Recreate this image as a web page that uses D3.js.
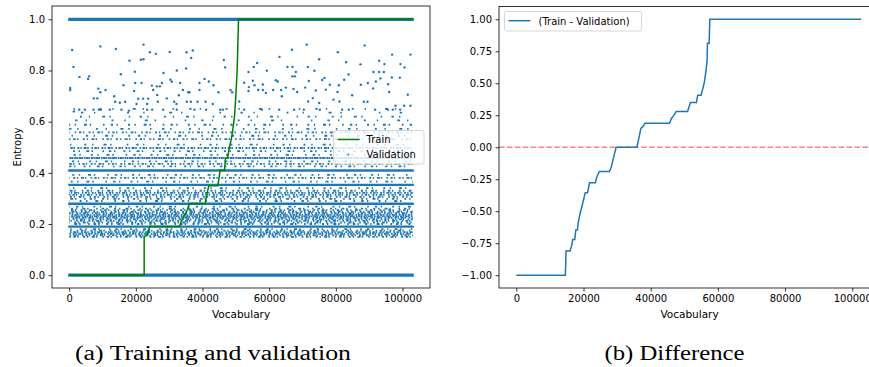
<!DOCTYPE html>
<html>
<head>
<meta charset="utf-8">
<script src="https://cdn.jsdelivr.net/npm/d3@7"></script>
<style>
  html, body { margin: 0; padding: 0; background: #fff; }
  svg { display: block; }
  text { font-family: "DejaVu Sans", sans-serif; fill: #000; }
  .caption { font-family: "Liberation Serif", serif; }
</style>
</head>
<body>
<div id="chart"></div>
<script>
// ---- data ----
const vocabMax = 103100;

// train entropy vs vocabulary (green step-ish curve)
const trainX = [0, 22500, 22500, 23500, 24200, 33100, 33600, 34400, 35300, 36100, 40800, 41200, 41900, 44600, 45300, 46600, 46900, 47500, 48100, 48600, 49000, 49600, 50000, 50400, 50800, 103100];
const trainY = [0, 0, 0.15, 0.16, 0.19, 0.19, 0.21, 0.23, 0.25, 0.28, 0.28, 0.31, 0.35, 0.35, 0.41, 0.41, 0.455, 0.46, 0.50, 0.53, 0.56, 0.62, 0.70, 0.80, 1.0, 1.0];

// validation entropy: levels where the points merge into a solid row
const valSolidLevels = [0, 0.19, 0.279, 0.353, 0.409, 1.0];
// levels that show as speckled rows, with how much of the row is filled
const valRowLevels = [0.150, 0.156, 0.162, 0.168, 0.174, 0.180,
  0.200, 0.206, 0.212, 0.218, 0.224, 0.230, 0.236, 0.242, 0.248, 0.254, 0.260, 0.268,
  0.290, 0.298, 0.306, 0.314, 0.322, 0.330, 0.340,
  0.366, 0.380, 0.392, 0.425, 0.435, 0.445, 0.458, 0.470, 0.485, 0.497, 0.510, 0.532, 0.545, 0.558, 0.572, 0.588, 0.605, 0.620, 0.635, 0.650];
const valRowFill = [0.5, 0.6, 0.7, 0.65, 0.5, 0.35,
  0.4, 0.5, 0.55, 0.6, 0.65, 0.8, 0.7, 0.6, 0.55, 0.5, 0.4, 0.3,
  0.3, 0.4, 0.5, 0.6, 0.65, 0.45, 0.3,
  0.3, 0.55, 0.3, 0.35, 0.55, 0.3, 0.85, 0.3, 0.35, 0.65, 0.25, 0.5, 0.25, 0.5, 0.2, 0.3, 0.15, 0.22, 0.12, 0.15];
// validation entropy: scattered single points in the sparse upper part
const valPoints = [
  [900,0.880],[9350,0.894],[1300,0.814],[14000,0.884],[22300,0.901],[24200,0.871],[26000,0.865],[30150,0.872],
  [35200,0.871],[37100,0.878],[36600,0.849],[18100,0.838],[21500,0.842],[22300,0.844],[32300,0.800],[35100,0.808],
  [46400,0.841],[46800,0.812],[19700,0.795],[15500,0.785],[28300,0.790],[3100,0.775],[6000,0.777],[5700,0.767],
  [300,0.732],[300,0.724],[1400,0.640],[8750,0.729],[9350,0.715],[10900,0.724],[16300,0.742],[19800,0.751],
  [21700,0.751],[19500,0.720],[24800,0.741],[26300,0.738],[27200,0.738],[27850,0.751],[25200,0.724],[30400,0.764],
  [30800,0.756],[33300,0.751],[34100,0.724],[35700,0.715],[36100,0.715],[32900,0.703],[39100,0.751],[39100,0.724],
  [40600,0.767],[41900,0.757],[43300,0.742],[44800,0.715],[48400,0.724],[48900,0.715],[13500,0.699],[7400,0.691],
  [8450,0.691],[13800,0.678],[16800,0.678],[20700,0.690],[22200,0.690],[23700,0.690],[26400,0.704],[26600,0.678],
  [29300,0.691],[31500,0.678],[35300,0.678],[36500,0.678],[38500,0.678],[40900,0.678],[3000,0.647],[4700,0.647],
  [7300,0.647],[8900,0.647],[9500,0.647],[12200,0.647],[15200,0.674],[15700,0.647],[17900,0.643],[20200,0.669],
  [23400,0.669],[24900,0.647],[23400,0.647],[28200,0.647],[32200,0.669],[32300,0.647],[37600,0.647],[41100,0.647],
  [43100,0.669],[45300,0.647],[46100,0.647],
  [71250,0.901],[88650,0.898],[66800,0.881],[80600,0.871],[63100,0.853],[96900,0.862],[102400,0.862],[75000,0.844],
  [83100,0.832],[93000,0.838],[94600,0.825],[99400,0.825],[56400,0.829],[55400,0.814],[53800,0.794],[65500,0.814],
  [67000,0.814],[71600,0.814],[87400,0.824],[100600,0.812],[59300,0.799],[68000,0.794],[73600,0.799],[91300,0.794],
  [93000,0.794],[94400,0.794],[67000,0.777],[67700,0.777],[83800,0.784],[52500,0.752],[55100,0.760],[62000,0.762],
  [62600,0.757],[76600,0.771],[82500,0.764],[93400,0.769],[96800,0.773],[99200,0.772],[55600,0.742],[58100,0.745],
  [71900,0.759],[75900,0.763],[78200,0.744],[80900,0.742],[87500,0.744],[89600,0.751],[92000,0.757],[95700,0.746],
  [53800,0.720],[56700,0.724],[58100,0.724],[61200,0.724],[63600,0.724],[65000,0.733],[67300,0.728],[68400,0.716],
  [70800,0.733],[74000,0.722],[77000,0.725],[80500,0.716],[84900,0.703],[89500,0.678],[91200,0.730],[96000,0.716],
  [101600,0.705],[51000,0.679],[53900,0.735],[59000,0.712],[63800,0.699],[71700,0.679],[73100,0.692],[75000,0.673],
  [79300,0.686],[81100,0.679],[88400,0.678],[97900,0.662],[100500,0.662],[102400,0.662],
  [52500,0.647],[57800,0.647],[63000,0.647],[67500,0.647],[70400,0.647],[75200,0.647],[81900,0.647],[83900,0.647],
  [91800,0.647],[95600,0.647],[97100,0.647],[99300,0.647]
];

// train - validation difference
const diffX = [0, 14600, 14800, 16000, 16500, 16800, 17400, 17700, 18200, 18400, 19000, 19500, 20000, 20500, 21200, 21800, 23500, 24000, 24700, 27700, 28300, 29000, 29700, 35900, 36400, 37100, 37700, 38300, 45600, 46200, 46800, 47600, 51000, 51800, 53600, 54000, 55000, 55500, 56000, 56500, 56800, 56900, 57400, 57600, 102700];
const diffY = [-1, -1, -0.81, -0.81, -0.765, -0.72, -0.72, -0.647, -0.647, -0.59, -0.516, -0.465, -0.412, -0.355, -0.355, -0.277, -0.277, -0.23, -0.19, -0.19, -0.152, -0.073, 0, 0, 0.062, 0.149, 0.161, 0.188, 0.188, 0.227, 0.245, 0.279, 0.279, 0.349, 0.349, 0.407, 0.407, 0.456, 0.513, 0.605, 0.683, 0.813, 0.813, 1.0, 1.0];

const leftYTicks = [0, 0.2, 0.4, 0.6, 0.8, 1.0];
const rightYTicks = [-1, -0.75, -0.5, -0.25, 0, 0.25, 0.5, 0.75, 1];
const xTicks = [0, 20000, 40000, 60000, 80000, 100000];

// ---- layout ----
const W = 869, H = 367;
const blue = '#1f77b4', green = '#008000';

const svg = d3.select('#chart').append('svg')
  .attr('width', W).attr('height', H);

function frame(g, box) {
  g.append('rect')
    .attr('x', box.left).attr('y', box.top)
    .attr('width', box.right - box.left).attr('height', box.bottom - box.top)
    .attr('fill', 'none').attr('stroke', '#000').attr('stroke-width', 0.8);
}

function axes(g, x, y, box, yTicks, yFmt) {
  let ax = g.append('g')
    .attr('transform', `translate(0,${box.bottom})`)
    .call(d3.axisBottom(x).tickValues(xTicks).tickSize(3.5).tickPadding(3.5).tickFormat(d3.format('d')));
  let ay = g.append('g')
    .attr('transform', `translate(${box.left},0)`)
    .call(d3.axisLeft(y).tickValues(yTicks).tickSize(3.5).tickPadding(3.5).tickFormat(yFmt));
  [ax, ay].forEach(a => {
    a.select('.domain').remove();
    a.selectAll('.tick line').attr('stroke', '#000').attr('stroke-width', 0.8);
    a.selectAll('.tick text').style('font-size', '10px').style('font-family', '"DejaVu Sans", sans-serif').attr('fill', '#000');
  });
  g.append('text')
    .attr('x', (box.left + box.right) / 2).attr('y', box.bottom + 30)
    .attr('text-anchor', 'middle').style('font-size', '10.5px')
    .text('Vocabulary');
}

// ---- (a) training and validation ----
{
  let box = { left: 52, right: 430, top: 6, bottom: 288 };
  let g = svg.append('g');
  let x = d3.scaleLinear().domain([-0.05 * vocabMax, 1.05 * vocabMax]).range([box.left, box.right]);
  let y = d3.scaleLinear().domain([-0.05, 1.05]).range([box.bottom, box.top + 0.5]);

  g.append('clipPath').attr('id', 'clipA').append('rect')
    .attr('x', box.left).attr('y', box.top)
    .attr('width', box.right - box.left).attr('height', box.bottom - box.top);
  let plot = g.append('g').attr('clip-path', 'url(#clipA)');

  // speckled validation rows; irregular dash template so they look like dots
  let dashBase = [1.6, 2.2, 2.4, 1.2, 1.4, 3.6, 2.0, 1.6, 1.4, 2.8, 3.0, 1.0, 1.5, 4.2];
  plot.selectAll('.val-row')
    .data(valRowLevels)
    .enter().append('line')
    .attr('class', 'val-row')
    .attr('x1', x(0)).attr('x2', x(vocabMax))
    .attr('y1', d => y(d)).attr('y2', d => y(d))
    .attr('stroke', blue).attr('stroke-width', 1.8)
    .attr('stroke-dasharray', (d, i) => {
      let f = valRowFill[i], k = (1 - f) / f;
      return dashBase.map((v, j) => j % 2 ? (v * k * 1.2).toFixed(2) : v).join(' ');
    })
    .attr('stroke-dashoffset', (d, i) => (i * 13.7) % 29);

  plot.selectAll('.val-pt')
    .data(valPoints)
    .enter().append('circle')
    .attr('class', 'val-pt')
    .attr('cx', d => x(d[0])).attr('cy', d => y(d[1]))
    .attr('r', 1.2).attr('fill', blue);

  plot.selectAll('.val-solid')
    .data(valSolidLevels)
    .enter().append('line')
    .attr('class', 'val-solid')
    .attr('x1', x(0) - 1).attr('x2', x(vocabMax) + 1)
    .attr('y1', d => y(d)).attr('y2', d => y(d))
    .attr('stroke', blue)
    .attr('stroke-width', d => (d === 0 || d === 1) ? 3.2 : 2.4);

  let line = d3.line().x(d => x(d[0])).y(d => y(d[1]));
  plot.append('path')
    .datum(d3.zip(trainX, trainY))
    .attr('d', line)
    .attr('fill', 'none').attr('stroke', green).attr('stroke-width', 1.5);

  frame(g, box);
  axes(g, x, y, box, leftYTicks, d3.format('.1f'));

  g.append('text')
    .attr('transform', `translate(21,${(box.top + box.bottom) / 2}) rotate(-90)`)
    .attr('text-anchor', 'middle').style('font-size', '10px')
    .text('Entropy');

  // legend
  let lg = g.append('g').attr('transform', 'translate(333.5,130.5)');
  lg.append('rect').attr('width', 90.5).attr('height', 33.5).attr('rx', 2)
    .attr('fill', '#fff').attr('fill-opacity', 0.8).attr('stroke', '#ccc').attr('stroke-width', 0.8);
  lg.append('line').attr('x1', 4).attr('x2', 26).attr('y1', 9).attr('y2', 9)
    .attr('stroke', green).attr('stroke-width', 1.5);
  lg.append('circle').attr('cx', 15).attr('cy', 24).attr('r', 0.9).attr('fill', blue);
  lg.append('text').attr('x', 33).attr('y', 12.5).style('font-size', '10px').text('Train');
  lg.append('text').attr('x', 33).attr('y', 27.5).style('font-size', '10px').text('Validation');

  svg.append('text').attr('class', 'caption')
    .attr('x', 213).attr('y', 360).attr('text-anchor', 'middle')
    .style('font-size', '20px')
    .attr('textLength', 276).attr('lengthAdjust', 'spacingAndGlyphs')
    .text('(a) Training and validation');
}

// ---- (b) difference ----
{
  let box = { left: 499, right: 880, top: 6.5, bottom: 288 };
  let g = svg.append('g');
  let x = d3.scaleLinear().domain([-0.05 * vocabMax, 1.05 * vocabMax]).range([box.left, box.right]);
  let y = d3.scaleLinear().domain([-1.1, 1.1]).range([box.bottom, box.top]);

  g.append('line')
    .attr('x1', box.left).attr('x2', box.right)
    .attr('y1', y(0)).attr('y2', y(0))
    .attr('stroke', '#ff8080').attr('stroke-width', 1.5)
    .attr('stroke-dasharray', '5.5 2.4');

  let line = d3.line().x(d => x(d[0])).y(d => y(d[1]));
  g.append('path')
    .datum(d3.zip(diffX, diffY))
    .attr('d', line)
    .attr('fill', 'none').attr('stroke', blue).attr('stroke-width', 1.5);

  frame(g, box);
  axes(g, x, y, box, rightYTicks, d => d3.format('.2f')(d).replace('-', '\u2212'));

  let lg = g.append('g').attr('transform', 'translate(504.5,11.5)');
  lg.append('rect').attr('width', 137).attr('height', 19.5).attr('rx', 2)
    .attr('fill', '#fff').attr('fill-opacity', 0.8).attr('stroke', '#ccc').attr('stroke-width', 0.8);
  lg.append('line').attr('x1', 4).attr('x2', 26).attr('y1', 9.2).attr('y2', 9.2)
    .attr('stroke', blue).attr('stroke-width', 1.5);
  lg.append('text').attr('x', 34).attr('y', 13).style('font-size', '10px').text('(Train - Validation)');

  svg.append('text').attr('class', 'caption')
    .attr('x', 674.5).attr('y', 360).attr('text-anchor', 'middle')
    .style('font-size', '20px')
    .attr('textLength', 140).attr('lengthAdjust', 'spacingAndGlyphs')
    .text('(b) Difference');
}
</script>
</body>
</html>
